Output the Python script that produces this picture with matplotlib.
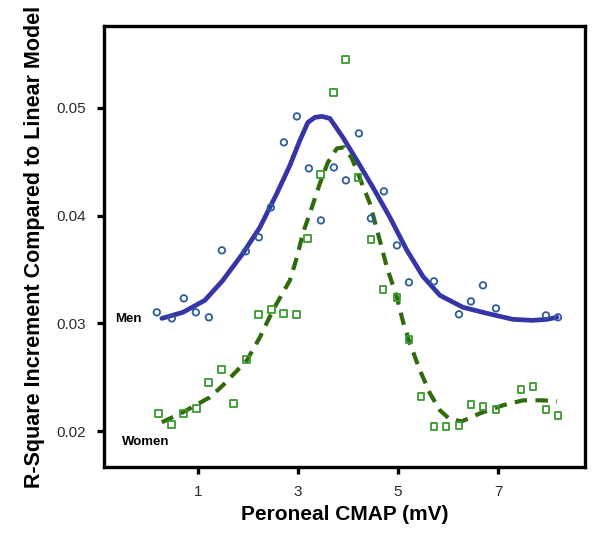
import matplotlib
matplotlib.use("Agg")
import matplotlib.pyplot as plt

plt.rcParams['font.family'] = ['Liberation Sans', 'DejaVu Sans']

# Men scatter points
men_x = [0.18, 0.48, 0.72, 0.96, 1.22, 1.48, 1.96, 2.22, 2.46, 2.72, 2.98, 3.22, 3.46,
         3.72, 3.96, 4.22, 4.46, 4.72, 4.98, 5.22, 5.72, 6.22, 6.46, 6.70, 6.96, 7.96, 8.20]
men_y = [0.03102, 0.03046, 0.03232, 0.03102, 0.03056, 0.03678, 0.03669, 0.03799, 0.04077,
         0.04681, 0.04922, 0.04439, 0.03956, 0.04448, 0.04328, 0.04764, 0.03975, 0.04226,
         0.03724, 0.03381, 0.03390, 0.03084, 0.03204, 0.03353, 0.03139, 0.03074, 0.03056]

# Women scatter points
women_x = [0.22, 0.48, 0.72, 0.98, 1.22, 1.48, 1.72, 1.98, 2.22, 2.48, 2.72, 2.98, 3.20,
           3.46, 3.72, 3.96, 4.20, 4.46, 4.70, 4.98, 5.22, 5.46, 5.72, 5.96, 6.22, 6.46,
           6.70, 6.96, 7.46, 7.70, 7.96, 8.20]
women_y = [0.02164, 0.02062, 0.02164, 0.02211, 0.02452, 0.02573, 0.02257, 0.02666, 0.03084,
           0.03130, 0.03093, 0.03084, 0.03789, 0.04383, 0.05145, 0.05451, 0.04356, 0.03780,
           0.03316, 0.03241, 0.02851, 0.02322, 0.02044, 0.02044, 0.02053, 0.02248, 0.02229,
           0.02201, 0.02387, 0.02415, 0.02201, 0.02146]

# Smoothed fit curves
men_fit_x = [0.28, 0.70, 1.14, 1.50, 1.90, 2.24, 2.58, 2.84, 3.04, 3.20, 3.34, 3.48, 3.64,
             3.90, 4.18, 4.50, 4.84, 5.18, 5.50, 5.84, 6.30, 6.78, 7.30, 7.70, 7.98, 8.18]
men_fit_y = [0.03046, 0.03102, 0.03214, 0.03399, 0.03650, 0.03891, 0.04207, 0.04467, 0.04699,
             0.04866, 0.04913, 0.04922, 0.04903, 0.04727, 0.04513, 0.04263, 0.03984, 0.03678,
             0.03436, 0.03260, 0.03149, 0.03093, 0.03037, 0.03028, 0.03037, 0.03056]

women_fit_x = [0.28, 0.70, 1.24, 1.50, 1.98, 2.24, 2.50, 2.84, 2.98, 3.10, 3.28, 3.44, 3.60,
               3.78, 3.92, 4.08, 4.24, 4.44, 4.60, 4.78, 4.98, 5.10, 5.24, 5.44, 5.64, 5.84,
               6.04, 6.28, 6.64, 7.10, 7.50, 7.90, 8.18]
women_fit_y = [0.02081, 0.02174, 0.02313, 0.02424, 0.02656, 0.02870, 0.03121, 0.03399, 0.03613,
               0.03836, 0.04077, 0.04300, 0.04495, 0.04625, 0.04634, 0.04532, 0.04346, 0.04114,
               0.03836, 0.03520, 0.03241, 0.03019, 0.02814, 0.02564, 0.02350, 0.02192, 0.02109,
               0.02090, 0.02164, 0.02239, 0.02285, 0.02285, 0.02276]

x_ticks = [1, 3, 5, 7]
y_ticks = [0.02, 0.03, 0.04, 0.05]
y_tick_labels = ["0.02", "0.03", "0.04", "0.05"]

fig = plt.figure(figsize=(6.0, 5.34), dpi=100)
ax = fig.add_axes([0.173, 0.1255, 0.802, 0.8255])

ax.plot(men_fit_x, men_fit_y, color='#3535a8', lw=3.4, solid_capstyle='round',
        solid_joinstyle='round', zorder=3)
ax.plot(women_fit_x, women_fit_y, color='#2f6a0c', lw=3.0, dashes=(3.0, 2.0),
        dash_joinstyle='round', zorder=3)

ax.scatter(men_x, men_y, s=22, facecolors='none', edgecolors='#2d5d9a', linewidths=1.3, zorder=4)
ax.scatter(women_x, women_y, s=24, marker='s', facecolors='none', edgecolors='#3a9a30',
           linewidths=1.3, zorder=4)

ax.text(-0.66, 0.0304, "Men", fontsize=9.5, fontweight='bold', va='center', ha='left')
ax.text(-0.52, 0.01895, "Women", fontsize=9.5, fontweight='bold', va='center', ha='left')

ax.set_xlim(-0.88, 8.74)
ax.set_ylim(0.01666, 0.0576)
ax.set_xticks(x_ticks)
ax.set_xticklabels([str(t) for t in x_ticks])
ax.set_yticks(y_ticks)
ax.set_yticklabels(y_tick_labels)

for sp in ax.spines.values():
    sp.set_linewidth(2.4)
    sp.set_color('black')
ax.tick_params(direction='out', length=5, width=2.4, labelsize=11, colors='black',
               labelcolor='#2a2a2a', pad=8)

ax.set_xlabel("Peroneal CMAP (mV)", fontsize=15, fontweight='bold', labelpad=4)
ax.set_ylabel("R-Square Increment Compared to Linear Model", fontsize=15.5,
              fontweight='bold', labelpad=8)

fig.savefig("out.png", dpi=100)
